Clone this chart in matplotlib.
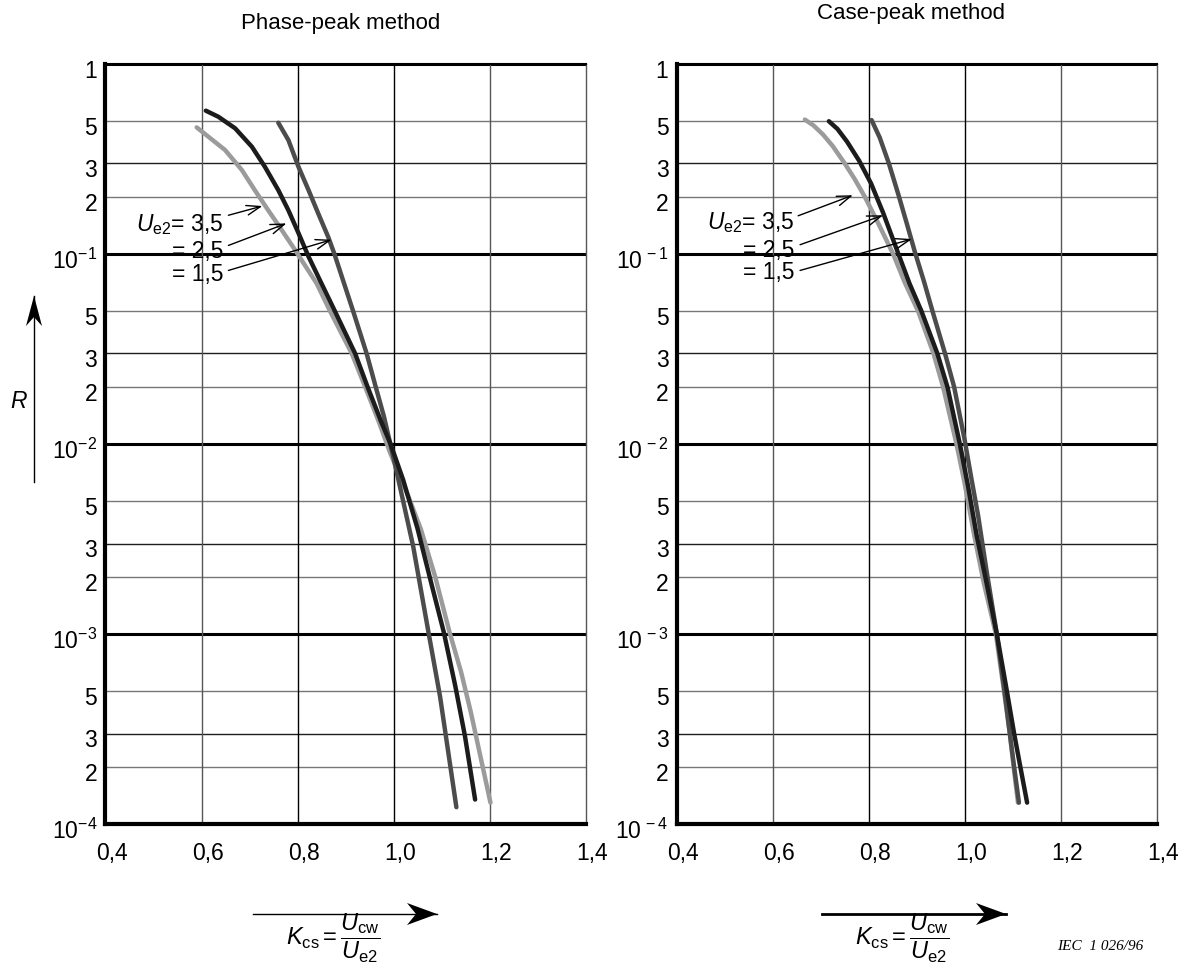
import matplotlib
matplotlib.use('Agg')
import matplotlib.pyplot as plt
from matplotlib.patches import Polygon
from matplotlib.transforms import ScaledTranslation

plt.rcParams['font.family'] = ['Liberation Sans', 'DejaVu Sans']
plt.rcParams['mathtext.fontset'] = 'custom'
plt.rcParams['mathtext.rm'] = 'Liberation Sans'
plt.rcParams['mathtext.it'] = 'Liberation Sans:italic'
plt.rcParams['mathtext.bf'] = 'Liberation Sans:bold'

# Phase-peak method : K_cs -> R for each Ue2
pp_k_35 = [0.59, 0.614, 0.649, 0.684, 0.711, 0.739, 0.767, 0.795, 0.84, 0.868, 0.913, 0.941,
           0.97, 0.993, 1.031, 1.057, 1.087, 1.117, 1.141, 1.161, 1.202]
pp_r_35 = [0.464, 0.415, 0.353, 0.277, 0.217, 0.17, 0.134, 0.105, 0.07, 0.05, 0.03, 0.02,
           0.013, 0.009, 0.0053, 0.00357, 0.002, 0.00102, 0.00063, 0.00039, 0.00013]
pp_k_25 = [0.609, 0.635, 0.67, 0.705, 0.732, 0.76, 0.781, 0.802, 0.823, 0.85, 0.878, 0.92,
           0.946, 0.975, 0.994, 1.02, 1.05, 1.08, 1.105, 1.129, 1.149, 1.17]
pp_r_25 = [0.568, 0.528, 0.459, 0.367, 0.288, 0.217, 0.17, 0.129, 0.097, 0.07, 0.05, 0.03,
           0.02, 0.013, 0.01, 0.0065, 0.0036, 0.0018, 0.00102, 0.00053, 0.00029, 0.000135]
pp_k_15 = [0.76, 0.781, 0.802, 0.823, 0.843, 0.864, 0.877, 0.916, 0.944, 0.963, 0.98, 1.0,
           1.018, 1.041, 1.073, 1.097, 1.131]
pp_r_15 = [0.491, 0.398, 0.288, 0.217, 0.164, 0.123, 0.1, 0.05, 0.03, 0.02, 0.014, 0.0085,
           0.0053, 0.0029, 0.00102, 0.00047, 0.000123]

# Case-peak method
cp_k_35 = [0.667, 0.685, 0.705, 0.725, 0.75, 0.77, 0.792, 0.82, 0.851, 0.875, 0.903, 0.935,
           0.955, 0.983, 1.0, 1.02, 1.04, 1.065, 1.082, 1.094, 1.102, 1.111]
cp_r_35 = [0.51, 0.475, 0.425, 0.37, 0.30, 0.25, 0.2, 0.145, 0.1, 0.071, 0.05, 0.03,
           0.02, 0.01, 0.0062, 0.0033, 0.00185, 0.001, 0.0005, 0.0003, 0.0002, 0.00013]
cp_k_25 = [0.717, 0.735, 0.755, 0.78, 0.805, 0.83, 0.862, 0.885, 0.91, 0.943, 0.964, 0.99,
           1.007, 1.025, 1.043, 1.067, 1.088, 1.103, 1.116, 1.13]
cp_r_25 = [0.50, 0.455, 0.39, 0.31, 0.235, 0.165, 0.1, 0.07, 0.05, 0.03, 0.02, 0.01,
           0.006, 0.0033, 0.002, 0.001, 0.0005, 0.0003, 0.0002, 0.00013]
cp_k_15 = [0.806, 0.823, 0.842, 0.862, 0.88, 0.896, 0.915, 0.933, 0.959, 0.978, 1.0, 1.013,
           1.028, 1.045, 1.067, 1.083, 1.094, 1.103, 1.113]
cp_r_15 = [0.507, 0.41, 0.3, 0.205, 0.143, 0.103, 0.072, 0.05, 0.03, 0.02, 0.0105, 0.0068,
           0.0042, 0.0022, 0.001, 0.0005, 0.0003, 0.0002, 0.00013]

ue2_labels = ['3,5', '2,5', '1,5']
curve_colors = ['#9b9b9b', '#1c1c1c', '#4c4c4c']

x_ticks = [0.4, 0.6, 0.8, 1.0, 1.2, 1.4]
x_tick_labels = ['0,4', '0,6', '0,8', '1,0', '1,2', '1,4']
y_major = [1e-4, 1e-3, 1e-2, 1e-1, 1]
y_minor = [2e-4, 3e-4, 5e-4, 2e-3, 3e-3, 5e-3, 2e-2, 3e-2, 5e-2, 2e-1, 3e-1, 5e-1]
y_minor_labels = ['2', '3', '5'] * 4

W, H = 1186, 965
fig = plt.figure(figsize=(W / 100, H / 100), dpi=100)


def fpos(x, y):
    # pixel position (from top-left) -> figure fraction
    return x / W, 1 - y / H


def setup(ax, major_labels):
    ax.set_yscale('log')
    ax.set_xlim(0.4, 1.4)
    ax.set_ylim(1e-4, 1)
    for v in y_major:
        ax.axhline(v, color='black', lw=2.2, zorder=1)
    for v, lab in zip(y_minor, y_minor_labels):
        ax.axhline(v, color='#1e1e1e' if lab == '3' else '#777777', lw=1.0, zorder=1)
    for v in x_ticks[1:-1]:
        ax.axvline(v, color='black' if v in (0.8, 1.0) else '#555555', lw=1.0, zorder=1)
    ax.set_xticks(x_ticks, labels=x_tick_labels)
    ax.set_yticks(y_major, labels=major_labels)
    ax.set_yticks(y_minor, labels=y_minor_labels, minor=True)
    ax.tick_params(axis='both', which='both', length=0, labelsize=16.5)
    ax.tick_params(axis='x', pad=13)
    ax.tick_params(axis='y', which='both', pad=6)
    dx = ScaledTranslation(4.5 / 72, 0, fig.dpi_scale_trans)
    for lab in ax.get_xticklabels():
        lab.set_transform(lab.get_transform() + dx)
    dy = ScaledTranslation(0, -3.5 / 72, fig.dpi_scale_trans)
    for lab in ax.get_yticklabels(which='both'):
        lab.set_transform(lab.get_transform() + dy)
    ax.spines['left'].set_linewidth(3)
    ax.spines['bottom'].set_linewidth(3)
    ax.spines['top'].set_linewidth(1.5)
    ax.spines['right'].set_linewidth(1.0)
    ax.spines['right'].set_color('#555555')


def draw_curves(ax, ks, rs):
    # light grey first, then dark grey, black on top
    for i in (0, 2, 1):
        ax.plot(ks[i], rs[i], color=curve_colors[i], lw=3.2, solid_capstyle='round',
                solid_joinstyle='round', zorder=3)


def label_ue2(ax, ys, starts, tips):
    texts = [r'$U_{\mathrm{e2}}$= ' + ue2_labels[0], '= ' + ue2_labels[1], '= ' + ue2_labels[2]]
    for t, y in zip(texts, ys):
        ax.text(0.645, y, t, ha='right', va='center', fontsize=16.5, zorder=4)
    for s, tp in zip(starts, tips):
        ax.annotate('', xy=tp, xytext=s, zorder=5,
                    arrowprops=dict(arrowstyle='->,head_length=1.0,head_width=0.35',
                                    lw=1.0, color='black', shrinkA=0, shrinkB=0))


ax1 = fig.add_axes([105.5 / W, 1 - 824.3 / H, 480 / W, 760.3 / H])
ax2 = fig.add_axes([676.7 / W, 1 - 824.3 / H, 480 / W, 760.3 / H])

setup(ax1, ['10$^{-4}$', '10$^{-3}$', '10$^{-2}$', '10$^{-1}$', '1'])
setup(ax2, ['10$^{\\,-4}$', '10$^{\\,-3}$', '10$^{\\,-2}$', '10$^{\\,-1}$', '1'])

draw_curves(ax1, [pp_k_35, pp_k_25, pp_k_15], [pp_r_35, pp_r_25, pp_r_15])
draw_curves(ax2, [cp_k_35, cp_k_25, cp_k_15], [cp_r_35, cp_r_25, cp_r_15])

label_ue2(ax1, [0.143, 0.103, 0.078],
          [(0.656, 0.160), (0.656, 0.111), (0.656, 0.082)],
          [(0.727, 0.179), (0.777, 0.145), (0.871, 0.119)])
label_ue2(ax2, [0.147, 0.104, 0.0796],
          [(0.653, 0.159), (0.657, 0.112), (0.657, 0.082)],
          [(0.767, 0.204), (0.830, 0.160), (0.890, 0.120)])

# titles
fig.text(*fpos(341, 23), 'Phase-peak method', ha='center', va='center', fontsize=16)
fig.text(*fpos(911, 14), 'Case-peak method', ha='center', va='center', fontsize=16)


def axis_arrow(x0, y0, x1, y1, lw, head=(28, 11, 8)):
    # straight shaft plus a notched arrow head, pixel coords
    fig.add_artist(plt.Line2D([x0 / W, x1 / W], [1 - y0 / H, 1 - y1 / H],
                              transform=fig.transFigure, color='black', lw=lw))
    L, hw, notch = head
    if y0 == y1:
        pts = [(x1, y1), (x1 - L, y1 - hw), (x1 - L + notch, y1), (x1 - L, y1 + hw)]
    else:
        pts = [(x1, y1), (x1 - hw, y1 + L), (x1, y1 + L - notch), (x1 + hw, y1 + L)]
    fig.add_artist(Polygon([fpos(px, py) for px, py in pts], closed=True,
                           transform=fig.transFigure, color='black', lw=0))


# R axis arrow
axis_arrow(34, 482, 34, 296, 1.0, head=(30, 8, 9))
fig.text(*fpos(19, 402), 'R', style='italic', ha='center', va='center', fontsize=16.5)

# K_cs axis arrows and definitions
axis_arrow(253, 914, 437, 914, 1.0, head=(30, 11, 9))
axis_arrow(822, 914, 1006, 914, 2.0, head=(30, 11, 9))
ratio = r'$K_{\mathrm{cs}}=\dfrac{U_{\mathrm{cw}}}{U_{\mathrm{e2}}}$'
fig.text(*fpos(333, 938), ratio, ha='center', va='center', fontsize=17)
fig.text(*fpos(902, 938), ratio, ha='center', va='center', fontsize=17)

fig.text(*fpos(1100, 946), 'IEC  1 026/96', family='Liberation Serif', style='italic',
         ha='center', va='center', fontsize=11)

fig.savefig('out.png', dpi=100)
